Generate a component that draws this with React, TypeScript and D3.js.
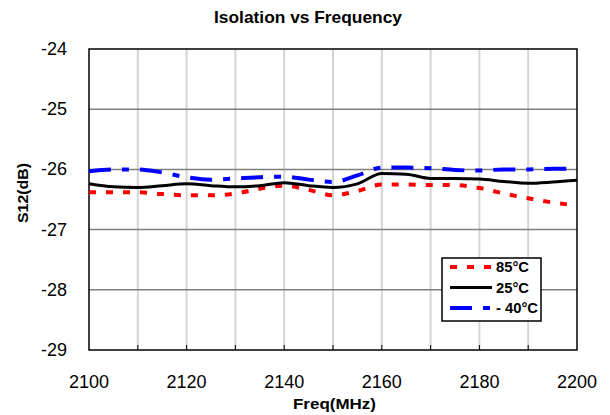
import React from "react";
import * as d3 from "d3";

const freqs = [2100, 2105, 2110, 2115, 2120, 2125, 2130, 2135, 2140, 2145, 2150, 2155, 2160, 2165, 2170, 2175, 2180, 2185, 2190, 2195, 2200];
const s85 = [-26.38, -26.38, -26.38, -26.41, -26.43, -26.43, -26.4, -26.32, -26.27, -26.34, -26.43, -26.36, -26.25, -26.25, -26.26, -26.26, -26.31, -26.4, -26.48, -26.55, -26.6];
const s25 = [-26.24, -26.29, -26.3, -26.27, -26.24, -26.27, -26.29, -26.27, -26.22, -26.27, -26.3, -26.24, -26.07, -26.08, -26.15, -26.15, -26.16, -26.2, -26.23, -26.21, -26.18];
const sM40 = [-26.03, -26.0, -26.0, -26.05, -26.13, -26.17, -26.15, -26.13, -26.12, -26.17, -26.21, -26.1, -25.97, -25.97, -25.98, -26.01, -26.02, -26.0, -26.0, -25.99, -25.99];
const yTicks = [-29, -28, -27, -26, -25, -24];
const xTicks = [2100, 2120, 2140, 2160, 2180, 2200];
const xMinor = [2110, 2120, 2130, 2140, 2150, 2160, 2170, 2180, 2190];
const legendLabels = ["85°C", "25°C", "- 40°C"];

const FONT = "'Liberation Sans', Arial, sans-serif";

export default function App() {
  const L = 89, R = 577, T = 49, B = 350;
  const x = d3.scaleLinear().domain([2100, 2200]).range([L, R]);
  const y = d3.scaleLinear().domain([-29, -24]).range([B, T]);
  const line = (vals: number[]) =>
    d3.line<number>().x((_, i) => x(freqs[i])).y((d) => y(d)).curve(d3.curveMonotoneX)(vals) || "";

  const series = [
    { vals: s85, color: "#ff0000", width: 4, dash: "7,10", tl: 33 },
    { vals: s25, color: "#000000", width: 3, dash: "", tl: 33 },
    { vals: sM40, color: "#0000ff", width: 4, dash: "22,11,7,11", tl: 42 },
  ];

  const lgX = 442, lgY = 258, lgW = 99, lgH = 63;

  return (
    <svg width={610} height={415} style={{ position: "absolute", left: 0, top: 0, background: "#fff" }} fontFamily={FONT}>
      <text x={308} y={23} textAnchor="middle" fontSize={17} fontWeight="bold" textLength={188} lengthAdjust="spacingAndGlyphs">Isolation vs Frequency</text>
      {xMinor.map((f) => (
        <line key={"vg" + f} x1={x(f)} x2={x(f)} y1={T} y2={B} stroke="#d4d4d4" strokeWidth={2} />
      ))}
      {yTicks.filter((t) => t > -29 && t < -24).map((t) => (
        <line key={"hg" + t} x1={L} x2={R} y1={y(t)} y2={y(t)} stroke="#7f7f7f" strokeWidth={1.5} />
      ))}
      {xMinor.map((f) => (
        <line key={"xt" + f} x1={x(f)} x2={x(f)} y1={B} y2={B - 5} stroke="#000" strokeWidth={1} />
      ))}
      <rect x={L} y={T} width={R - L} height={B - T} fill="none" stroke="#000" strokeWidth={1.5} />
      {yTicks.map((t) => (
        <text key={"yl" + t} x={67} y={y(t) + 6} textAnchor="end" fontSize={18}>{t}</text>
      ))}
      {xTicks.map((t) => (
        <text key={"xl" + t} x={x(t)} y={388} textAnchor="middle" fontSize={18}>{t}</text>
      ))}
      <text x={334.5} y={409} textAnchor="middle" fontSize={14} fontWeight="bold" textLength={83} lengthAdjust="spacingAndGlyphs">Freq(MHz)</text>
      <text transform="translate(28,193) rotate(-90)" textAnchor="middle" fontSize={14} fontWeight="bold" textLength={60} lengthAdjust="spacingAndGlyphs">S12(dB)</text>
      {series.map((s, i) => (
        <path key={"s" + i} d={line(s.vals)} fill="none" stroke={s.color} strokeWidth={s.width} strokeDasharray={s.dash || undefined} />
      ))}
      <rect x={lgX} y={lgY} width={lgW} height={lgH} fill="#fff" stroke="#000" strokeWidth={1.5} />
      {series.map((s, i) => {
        const yy = lgY + 9 + i * 20.5;
        return (
          <g key={"lg" + i}>
            <line x1={lgX + 8} x2={lgX + 50} y1={yy} y2={yy} stroke={s.color} strokeWidth={s.width} strokeDasharray={s.dash || undefined} />
            <text x={lgX + 54} y={yy + 5} fontSize={14} fontWeight="bold" textLength={s.tl} lengthAdjust="spacingAndGlyphs">{legendLabels[i]}</text>
          </g>
        );
      })}
    </svg>
  );
}
